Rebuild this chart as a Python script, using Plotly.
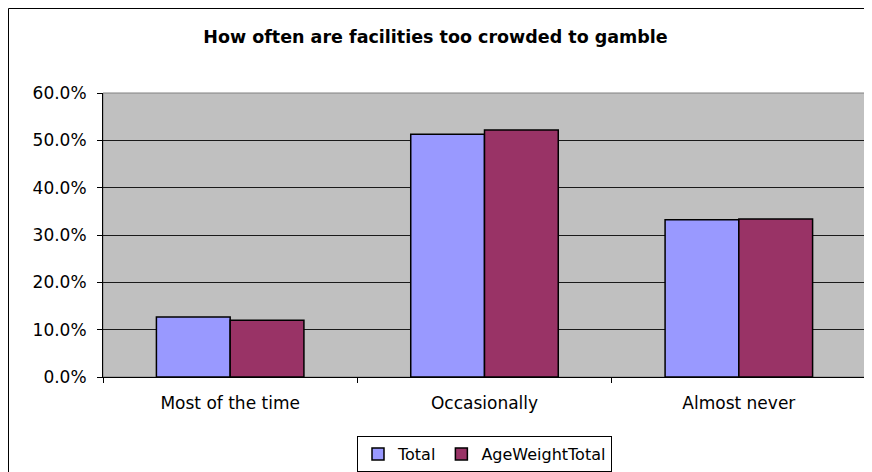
import plotly.graph_objects as go

categories = ["Most of the time", "Occasionally", "Almost never"]
total = [0.127, 0.513, 0.332]
age_weight_total = [0.120, 0.522, 0.334]
y_ticks = [0.0, 0.1, 0.2, 0.3, 0.4, 0.5, 0.6]
y_tick_labels = ["0.0%", "10.0%", "20.0%", "30.0%", "40.0%", "50.0%", "60.0%"]

FONT = "DejaVu Sans"

fig = go.Figure()
fig.add_trace(go.Bar(
    name="Total", x=categories, y=total,
    marker=dict(color="#9999FF", line=dict(color="#000000", width=1.5)),
))
fig.add_trace(go.Bar(
    name="AgeWeightTotal", x=categories, y=age_weight_total,
    marker=dict(color="#993366", line=dict(color="#000000", width=1.5)),
))

# figure coordinates (page body adds an 8px offset)
W, H = 872, 472
L, R, T, B = 95, 14, 85, 103
pw, ph = W - L - R, H - T - B

def px_x(x):
    return (x - L) / pw

def px_y(y):
    return (H - B - y) / ph

fig.update_layout(
    width=W, height=H,
    margin=dict(l=L, r=R, t=T, b=B, pad=0, autoexpand=False),
    paper_bgcolor="#FFFFFF",
    plot_bgcolor="#C0C0C0",
    barmode="group",
    bargap=0.42,
    bargroupgap=0,
    font=dict(family=FONT, size=17, color="#000000"),
    title=dict(
        text="<b>How often are facilities too crowded to gamble</b>",
        x=427.5 / W, xref="container", xanchor="center",
        y=1 - 29 / H, yref="container", yanchor="middle",
        font=dict(family=FONT, size=17.5, color="#000000"),
    ),
    showlegend=True,
    legend=dict(
        orientation="h",
        x=0.5, xanchor="center", xref="paper",
        y=px_y(428), yanchor="top", yref="paper",
        bgcolor="#FFFFFF",
        bordercolor="#000000", borderwidth=1,
        font=dict(family=FONT, size=16, color="#000000"),
        traceorder="normal",
        itemwidth=30,
    ),
    xaxis=dict(
        showgrid=False,
        showline=True, linecolor="#000000", linewidth=1,
        ticks="outside", tickson="boundaries", ticklen=5, tickcolor="#000000",
        tickfont=dict(family=FONT, size=17, color="#000000"),
        ticklabelstandoff=11,
        automargin=False,
        zeroline=False,
    ),
    yaxis=dict(
        range=[0, 0.6],
        tickvals=y_ticks, ticktext=y_tick_labels,
        showgrid=True, gridcolor="#1a1a1a", gridwidth=1,
        showline=True, linecolor="#000000", linewidth=1,
        ticks="outside", ticklen=5, tickcolor="#000000",
        tickfont=dict(family=FONT, size=17, color="#000000"),
        ticklabelstandoff=7,
        automargin=False,
        zeroline=False,
    ),
    shapes=[
        dict(type="rect", xref="paper", yref="paper",
             x0=0, x1=1, y0=0, y1=1,
             line=dict(color="#808080", width=1), fillcolor="rgba(0,0,0,0)",
             layer="below"),
        dict(type="rect", xref="paper", yref="paper",
             x0=px_x(0.5), x1=px_x(W + 20), y0=px_y(H + 20), y1=px_y(0.5),
             line=dict(color="#000000", width=1), fillcolor="rgba(0,0,0,0)"),
    ],
)

fig.write_html("out.html")
